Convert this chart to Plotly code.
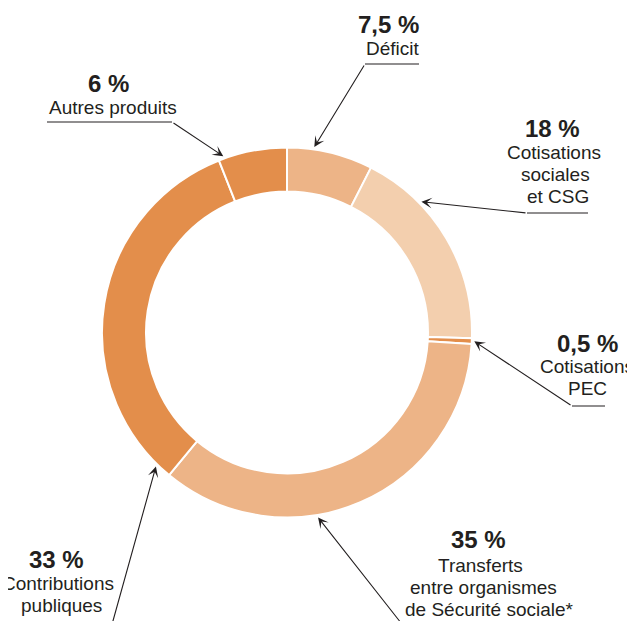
import math
import plotly.graph_objects as go

# ---------------- data ----------------
categories = [
    "Déficit",
    "Cotisations sociales et CSG",
    "Cotisations PEC",
    "Transferts entre organismes de Sécurité sociale*",
    "Contributions publiques",
    "Autres produits",
]
values = [7.5, 18, 0.5, 35, 33, 6]
pct_labels = ["7,5 %", "18 %", "0,5 %", "35 %", "33 %", "6 %"]
label_lines = [
    ["Déficit"],
    ["Cotisations", "sociales", "et CSG"],
    ["Cotisations", "PEC"],
    ["Transferts", "entre organismes", "de Sécurité sociale*"],
    ["Contributions", "publiques"],
    ["Autres produits"],
]

# ---------------- style / layout ----------------
W, H = 635, 621
PAGE_OFF = 8          # the page body margin shifts the figure by 8 px
CX, CY, R = 287, 332.5, 185
HOLE = 0.762
colors = ["#EDB487", "#F3CFAE", "#E38E4B", "#EDB487", "#E38E4B", "#E38E4B"]
TXT = "#231f20"
FONT = "Liberation Sans, Arial, Helvetica, sans-serif"
PCT_SIZE = 24
LBL_SIZE = 19

# per category label placement (screen pixels: center x, baseline y)
pct_pos = [(388.5, 33), (552.5, 137), (587.5, 352), (479, 548), (56.5, 568), (108, 92)]
line_pos = [
    [(393, 55)],
    [(553.5, 159), (555.5, 181), (557.5, 203)],
    [(587, 373), (587, 395)],
    [(480, 572), (483.5, 594), (489.5, 616)],
    [(58, 590), (61.5, 612)],
    [(112.5, 114)],
]
# underline segments (x0, x1, y) or None
underlines = [(365, 419, 64), (527, 588, 213), (572, 605, 406), None, None, (47, 172, 122)]
# leader tail (where the arrow line starts)
tails = [(365, 64), (527, 213), (572, 406), (405, 628), (111, 628), (172, 122)]
# position of the arrow head within each slice (fraction of the slice)
head_frac = [0.31, 0.29, 0.5, 0.61, 0.04, 0.08]
HEAD_OFF = 2.5


def X(px):
    return (px - PAGE_OFF) / W


def Y(py):
    return 1 - (py - PAGE_OFF) / H


fig = go.Figure(
    go.Pie(
        labels=categories,
        values=values,
        sort=False,
        direction="clockwise",
        rotation=0,
        hole=HOLE,
        marker=dict(colors=colors, line=dict(color="white", width=2)),
        textinfo="none",
        hoverinfo="skip",
        showlegend=False,
        domain=dict(x=[X(CX - R), X(CX + R)], y=[Y(CY + R), Y(CY - R)]),
    )
)

annotations = []
shapes = []
total = sum(values)
cum = 0.0
for i, v in enumerate(values):
    # text
    px, py = pct_pos[i]
    annotations.append(dict(
        x=X(px), y=Y(py - 0.35 * PCT_SIZE), xref="paper", yref="paper",
        text="<b>%s</b>" % pct_labels[i], showarrow=False,
        xanchor="center", yanchor="middle",
        font=dict(family=FONT, size=PCT_SIZE, color=TXT),
    ))
    for txt, (lx, ly) in zip(label_lines[i], line_pos[i]):
        annotations.append(dict(
            x=X(lx), y=Y(ly - 0.35 * LBL_SIZE), xref="paper", yref="paper",
            text=txt, showarrow=False, xanchor="center", yanchor="middle",
            font=dict(family=FONT, size=LBL_SIZE, color=TXT),
        ))
    # underline
    if underlines[i] is not None:
        x0, x1, uy = underlines[i]
        shapes.append(dict(type="line", xref="paper", yref="paper",
                           x0=X(x0), x1=X(x1), y0=Y(uy), y1=Y(uy),
                           line=dict(color=TXT, width=1.1)))
    # arrow head from the slice angle
    theta = math.radians((cum + head_frac[i] * v) / total * 360.0)
    hx = CX + (R + HEAD_OFF) * math.sin(theta)
    hy = CY - (R + HEAD_OFF) * math.cos(theta)
    tx, ty = tails[i]
    annotations.append(dict(
        x=X(hx), y=Y(hy), xref="paper", yref="paper", text="",
        showarrow=True, ax=tx - hx, ay=ty - hy, axref="pixel", ayref="pixel",
        arrowhead=3, arrowsize=1.6, arrowwidth=1.1, arrowcolor=TXT,
        standoff=0, startstandoff=0,
    ))
    cum += v

fig.update_layout(
    width=W, height=H,
    margin=dict(l=0, r=0, t=0, b=0),
    paper_bgcolor="white", plot_bgcolor="white",
    annotations=annotations, shapes=shapes,
)

fig.write_html("out.html")
